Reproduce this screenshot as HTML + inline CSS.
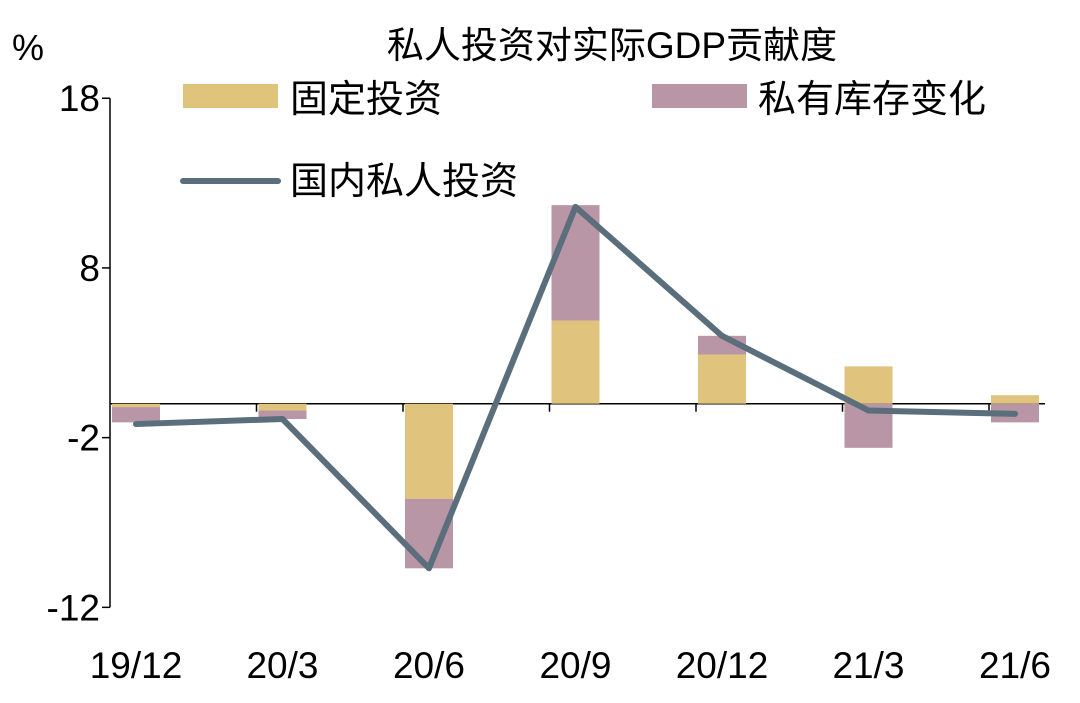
<!DOCTYPE html>
<html><head><meta charset="utf-8"><style>
body{margin:0;background:#fff;}
svg text{font-family:"Liberation Sans","Noto Sans CJK SC",sans-serif;fill:#000;}
</style></head><body>
<svg id="chart" width="1080" height="698" viewBox="0 0 1080 698" xmlns="http://www.w3.org/2000/svg">
<text x="612" y="58" font-size="37" text-anchor="middle">私人投资对实际GDP贡献度</text>
<text x="12" y="60" font-size="36">%</text>
<g>
<rect x="183" y="84" width="95" height="24" fill="#e0c47e"/>
<text x="290" y="112" font-size="38">固定投资</text>
<rect x="652" y="84" width="95" height="24" fill="#b896a6"/>
<text x="758" y="112" font-size="38">私有库存变化</text>
<line x1="183" y1="181" x2="278" y2="181" stroke="#5a6e7b" stroke-width="6" stroke-linecap="round"/>
<text x="290" y="194" font-size="38">国内私人投资</text>
</g>
<g id="axes"></g><g id="bars"></g><g id="lines"></g>
</svg>
<script>
const categories=["19/12","20/3","20/6","20/9","20/12","21/3","21/6"];
const fixedInv=[-0.2,-0.4,-5.6,4.9,2.9,2.2,0.5];
const inventory=[-0.9,-0.5,-4.1,6.8,1.1,-2.6,-1.1];
const privateInv=[-1.2,-0.9,-9.7,11.6,4.0,-0.4,-0.6];
const yTicks=[18,8,-2,-12];
const NS="http://www.w3.org/2000/svg";
const y=v=>403.7-v*16.97;
const step=146.5, x0=110;
const xc=i=>x0+step*i+26;
function mk(t,a,p){const e=document.createElementNS(NS,t);for(const k in a)e.setAttribute(k,a[k]);document.getElementById(p).appendChild(e);return e;}
let e=mk("line",{x1:x0,y1:y(18),x2:x0,y2:y(-12),stroke:"#000","stroke-width":1.5},"axes");


yTicks.forEach(t=>{
 let l=mk("line",{x1:x0-8,y1:y(t),x2:x0,y2:y(t),stroke:"#000","stroke-width":1.5},"axes");
 
 
 let tx=mk("text",{x:x0-10,y:y(t)+13,"font-size":37,"text-anchor":"end"},"axes");
 tx.textContent=t;
 
 
});
categories.forEach((c,i)=>{
 const bw=48;
 const f=fixedInv[i], v=inventory[i];
 let r1=mk("rect",{x:xc(i)-bw/2,y:Math.min(y(0),y(f)),width:bw,height:Math.abs(y(f)-y(0)),fill:"#e0c47e"},"bars");
 
 
 const base=(f>=0)===(v>=0)?f:0;
 let r2=mk("rect",{x:xc(i)-bw/2,y:Math.min(y(base),y(base+v)),width:bw,height:Math.abs(y(base+v)-y(base)),fill:"#b896a6"},"bars");
 
 
 let tx=mk("text",{x:xc(i),y:678,"font-size":37,"text-anchor":"middle"},"axes");
 tx.textContent=c;
 
 
 if(i>0){let tk=mk("line",{x1:x0+step*i,y1:y(0),x2:x0+step*i,y2:y(0)+8,stroke:"#000","stroke-width":1.5},"axes");
 
 }
});
let z=mk("line",{x1:x0,y1:y(0),x2:1045,y2:y(0),stroke:"#000","stroke-width":1.5},"axes");


let pl=mk("polyline",{points:privateInv.map((v,i)=>xc(i)+","+y(v)).join(" "),fill:"none",stroke:"#5a6e7b","stroke-width":6,"stroke-linejoin":"round","stroke-linecap":"round"},"lines");


</script>
</body></html>
